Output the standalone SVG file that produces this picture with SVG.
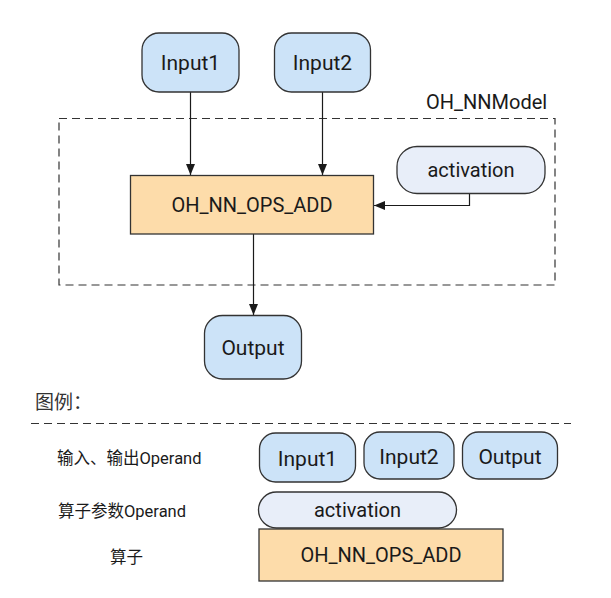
<svg xmlns="http://www.w3.org/2000/svg" width="611" height="598" viewBox="0 0 611 598">
<style>
text{font-family:Roboto,"Noto Sans CJK SC",sans-serif;fill:#1a1a1a}
.t{font-size:20px;text-anchor:middle}
.w{font-size:21px}
.io{fill:#cce3f8;stroke:#333;stroke-width:1.3}
.par{fill:#e8eef9;stroke:#333;stroke-width:1.3}
.op{fill:#fddcaa;stroke:#333;stroke-width:1.3}
.lbl{font-size:16.5px}
.dash{fill:none;stroke:#333;stroke-width:1.2;stroke-dasharray:8 5}
.c{fill:none;stroke:#1a1a1a;stroke-width:1.2}
</style>
<defs>
<marker id="ah" markerUnits="userSpaceOnUse" markerWidth="12" markerHeight="10" refX="11" refY="5" orient="auto">
<path d="M0,0.5 L11,5 L0,9.5 Z" fill="#1a1a1a"/>
</marker>
</defs>
<rect class="dash" x="59" y="118.5" width="496" height="166.5"/>
<text x="426" y="109" style="font-size:20px">OH_NNModel</text>
<g id="connectors">
<line class="c" x1="190.5" y1="92" x2="190.5" y2="175" marker-end="url(#ah)"/>
<line class="c" x1="322.5" y1="92" x2="322.5" y2="175" marker-end="url(#ah)"/>
<path class="c" d="M469.5,193.5 V205.5 H374" marker-end="url(#ah)"/>
<line class="c" x1="253.5" y1="234" x2="253.5" y2="315" marker-end="url(#ah)"/>
</g>
<g id="input1"><rect class="io" x="142" y="33" width="97" height="59" rx="17"/><text class="t w" x="190.5" y="70">Input1</text></g>
<g id="input2"><rect class="io" x="274.5" y="33" width="96" height="59" rx="17"/><text class="t w" x="322.5" y="70">Input2</text></g>
<g id="ops"><rect class="op" x="130.5" y="175.5" width="243" height="58.5"/><text class="t" x="252" y="211.5">OH_NN_OPS_ADD</text></g>
<g id="activation"><rect class="par" x="397" y="146.5" width="148" height="47" rx="20"/><text class="t" x="471" y="177">activation</text></g>
<g id="output"><rect class="io" x="204.5" y="315.5" width="97" height="63.5" rx="18"/><text class="t w" x="253" y="354.5">Output</text></g>
<g id="legend">
<text x="35" y="409" style="font-size:19px;fill:#333">图例：</text>
<line class="dash" x1="31" y1="423.5" x2="571" y2="423.5"/>
<text class="lbl" x="57" y="464">输入、输出Operand</text>
<text class="lbl" x="58" y="517">算子参数Operand</text>
<text class="lbl" x="110" y="563">算子</text>
<g id="leg-input1"><rect class="io" x="259.5" y="433" width="96" height="49" rx="16"/><text class="t w" x="307.5" y="465.5">Input1</text></g>
<g id="leg-input2"><rect class="io" x="364" y="432" width="90" height="47" rx="16"/><text class="t w" x="409" y="463.5">Input2</text></g>
<g id="leg-output"><rect class="io" x="462.5" y="432" width="95" height="47" rx="16"/><text class="t w" x="510" y="463.5">Output</text></g>
<g id="leg-activation"><rect class="par" x="258.5" y="492" width="198" height="36" rx="18"/><text class="t" x="357.5" y="517">activation</text></g>
<g id="leg-ops"><rect class="op" x="259" y="529" width="244" height="52"/><text class="t" x="381" y="562">OH_NN_OPS_ADD</text></g>
</g>
</svg>
